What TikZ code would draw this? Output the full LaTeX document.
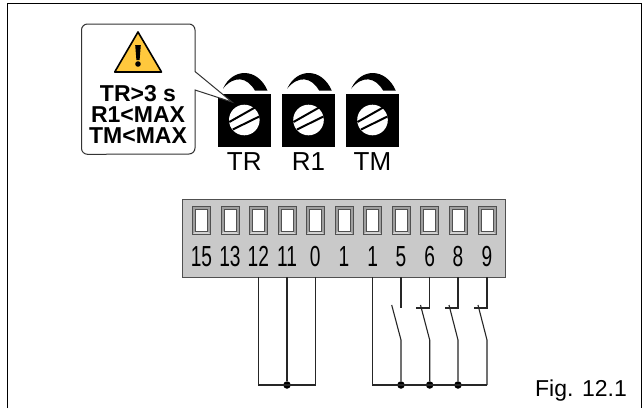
\documentclass[tikz,border=0pt]{standalone}
\usepackage{fontspec}
\usepackage{graphicx}
\setmainfont{Liberation Sans}
\definecolor{blockgrey}{HTML}{C9C9C9}
\definecolor{edgegrey}{HTML}{505050}
\definecolor{warn}{HTML}{FFC83D}
\tikzset{
  wire/.style={draw=black!85,line width=1.1pt},
  junction/.style={circle,fill=black,inner sep=0pt,minimum size=7.5pt},
  termnum/.style={inner sep=0pt,anchor=base,font=\fontsize{29}{29}\selectfont},
  screwlabel/.style={inner sep=0pt,anchor=base,font=\fontsize{26}{26}\selectfont},
  warnline/.style={inner sep=0pt,anchor=base,font=\fontsize{23}{23}\selectfont\bfseries},
}
\newcommand{\terminal}[3]{%
  \coordinate (pin#1) at (#2,277.3);
  \fill[gray!75] (#2-9,206.7) rectangle (#2+9,234.7);
  \fill[gray!35] (#2-9,234.7) -- (#2-6,231) -- (#2+6,231) -- (#2+9,234.7) -- cycle;
  \fill[white] (#2-6,209.7) rectangle (#2+6,231);
  \draw[edgegrey,line width=0.7pt] (#2-6,209.7) rectangle (#2+6,231);
  \draw[edgegrey,line width=0.9pt] (#2-9,206.7) rectangle (#2+9,234.7);
  \node[termnum] (num#1) at (#2,266) {\scalebox{0.66}[1]{#3}};
}
\newcommand{\screw}[3]{%
  \fill[black] (#2-26.3,94) rectangle (#2+26.3,146.7);
  \fill[black] (#2-21.2,88.5) .. controls (#2-12,68) and (#2+13,67) .. (#2+23.3,90.7) -- (#2+10.7,90.7) .. controls (#2+3,77) and (#2-10,75) .. (#2-21.2,88.5) -- cycle;
  \fill[white] (#2,120) circle (15.3);
  \draw[black,line width=2pt] (#2-15,122) -- (#2+11,107.3);
  \draw[black,line width=2pt] (#2-11.5,129.5) -- (#2+15,116.5);
  \node[screwlabel] (lab#1) at (#2,170.7) {#3};
}
\begin{document}
\begin{tikzpicture}[x=1pt,y=-1pt]
\useasboundingbox (0,0) rectangle (643,408);
\fill[white] (0,0) rectangle (643,408);
% frame
\draw[black,line width=1.2pt] (7.5,408) -- (7.5,3.5) -- (641.5,3.5) -- (641.5,408);
% screws
\screw{tr}{244.3}{TR}
\screw{ra}{308.5}{R1}
\screw{tm}{372.5}{TM}
% callout
\filldraw[fill=white,draw=black!80,line width=1pt]
  (195,71.5) -- (232,102) -- (195,90) -- (195,148) arc[start angle=0,end angle=90,radius=6] -- (87.5,154.3) arc[start angle=90,end angle=180,radius=6] -- (81.5,30) arc[start angle=180,end angle=270,radius=6] -- (189,24) arc[start angle=270,end angle=360,radius=6] -- cycle;
\filldraw[fill=warn,draw=black,line width=1.6pt,line join=round] (138,32) -- (161.5,72) -- (114.7,72) -- cycle;
\fill[black] (135.2,45) -- (140.8,45) -- (139.6,60) -- (136.4,60) -- cycle;
\fill[black] (138,64) circle (2.8);
\node[warnline] (w1) at (138,101.7) {TR>3 s};
\node[warnline] (w2) at (138,122.7) {R1<MAX};
\node[warnline] (w3) at (138,143.7) {TM<MAX};
% terminal block
\filldraw[fill=blockgrey,draw=edgegrey,line width=1pt] (182.3,199.3) rectangle (505.7,277.3);
\terminal{a}{201.5}{15}
\terminal{b}{230}{13}
\terminal{c}{258.3}{12}
\terminal{d}{287}{11}
\terminal{e}{315.3}{0}
\terminal{f}{344}{1}
\terminal{g}{372.7}{1}
\terminal{h}{401}{5}
\terminal{i}{429.7}{6}
\terminal{j}{458}{8}
\terminal{k}{487}{9}
% left loop
\coordinate (cl) at (258.3,385);
\coordinate (cr) at (315.3,385);
\node[junction] (jd) at (287,385) {};
\draw[wire] (pinc) -- (cl) -- (cr) -- (pine);
\draw[wire] (pind) -- (jd);
% right loop
\coordinate (bg) at (372.7,385);
\coordinate (bk) at (487,385);
\node[junction] (jh) at (401,385) {};
\node[junction] (ji) at (429.7,385) {};
\node[junction] (jj) at (458,385) {};
\draw[wire] (ping) -- (bg) -- (bk);
% switch 5
\coordinate (h1) at (401,308); \coordinate (h2) at (401,340); \coordinate (h3) at (391.7,305);
\draw[wire] (pinh) -- (h1);
\draw[wire] (h3) -- (h2) -- (jh);
% switch 6
\coordinate (i1) at (429.7,308); \coordinate (i0) at (416,308); \coordinate (i2) at (429.7,340); \coordinate (i3) at (420.5,305);
\draw[wire] (pini) -- (i1) -- (i0);
\draw[wire] (i3) -- (i2) -- (ji);
% switch 8
\coordinate (j1) at (458,308); \coordinate (j0) at (444.5,308); \coordinate (j2) at (458,340); \coordinate (j3) at (449,305);
\draw[wire] (pinj) -- (j1) -- (j0);
\draw[wire] (j3) -- (j2) -- (jj);
% switch 9
\coordinate (k1) at (487,308); \coordinate (k0) at (473.5,308); \coordinate (k2) at (487,340); \coordinate (k3) at (478,305); \coordinate (k4) at (487,385);
\draw[wire] (pink) -- (k1) -- (k0);
\draw[wire] (k3) -- (k2) -- (k4);
\node[inner sep=0pt,anchor=base east,font=\fontsize{23}{23}\selectfont] (fig) at (627,396.7) {Fig. 12.1};
\end{tikzpicture}
\end{document}
